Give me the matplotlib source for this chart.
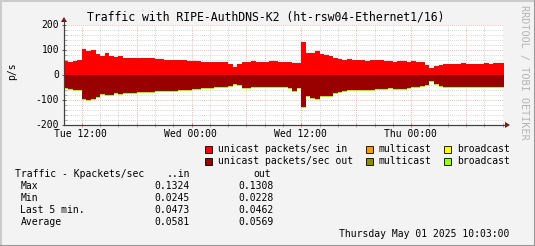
import numpy as np
import matplotlib
matplotlib.use("Agg")
import matplotlib.pyplot as plt
from matplotlib.patches import Rectangle, Polygon
from matplotlib.lines import Line2D
from matplotlib.ticker import MultipleLocator, FixedLocator

# ---------------- data (30-min samples, hours since Tue 00:00) ----------------
start_hour = 10.0
step_hours = 0.5
unicast_in = [57, 54, 58, 60, 103, 98, 100, 85, 75, 88, 78, 71, 76, 69, 68, 67,
              69, 67, 67, 69, 64, 63, 61, 61, 60, 62, 59, 58, 57, 57, 53, 53,
              53, 53, 51, 51, 45, 33, 45, 51, 52, 56, 53, 53, 53, 55, 57, 53,
              51, 54, 49, 49, 132, 88, 88, 95, 85, 80, 76, 68, 66, 62, 63, 62,
              60, 59, 57, 60, 60, 59, 57, 55, 54, 58, 55, 54, 56, 54, 51, 40,
              27, 38, 41, 44, 44, 44, 45, 47, 46, 44, 44, 46, 47, 46, 47, 47, 47]
unicast_out = [53, 56, 58, 60, 96, 100, 96, 86, 74, 80, 81, 73, 76, 72, 70, 73,
               68, 68, 69, 68, 65, 64, 63, 63, 63, 61, 60, 58, 56, 56, 53, 53,
               50, 49, 49, 48, 44, 34, 41, 52, 50, 49, 49, 49, 48, 49, 49, 48,
               49, 51, 62, 50, 127, 84, 91, 94, 82, 82, 84, 73, 68, 64, 60, 59,
               59, 59, 60, 58, 57, 56, 54, 53, 55, 56, 54, 51, 49, 48, 45, 38,
               23, 36, 43, 46, 47, 47, 46, 48, 47, 47, 46, 47, 48, 47, 47, 47, 47]
broadcast_out = [4, 4, 4, 4, 4, 4, 4, 4, 4, 4, 4, 4, 4, 4, 4, 4,
                 4, 4, 4, 4, 4, 4, 4, 4, 4, 4, 4, 4, 4, 4, 4, 4,
                 4, 4, 4, 4, 4, 4, 4, 4, 4, 4, 4, 4, 4, 4, 4, 4,
                 4, 4, 4, 4, 4, 4, 4, 4, 4, 4, 4, 4, 4, 4, 4, 4,
                 4, 4, 4, 4, 4, 4, 4, 4, 4, 4, 4, 4, 4, 4, 4, 4,
                 4, 4, 4, 4, 4, 4, 4, 4, 4, 4, 4, 4, 4, 4, 4, 4, 4]
multicast_in = [0.0] * len(unicast_in)
multicast_out = [0.0] * len(unicast_in)
broadcast_in = [0.0] * len(unicast_in)

x_tick_hours = [12, 24, 36, 48]
x_tick_labels = ["Tue 12:00", "Wed 00:00", "Wed 12:00", "Thu 00:00"]
y_ticks = [-200, -100, 0, 100, 200]
x_range = (10.05, 58.05)

title = "Traffic with RIPE-AuthDNS-K2 (ht-rsw04-Ethernet1/16)"
legend_rows = [
    [("#FF0000", "unicast packets/sec in"), ("#FF9900", "multicast"), ("#FFFF00", "broadcast")],
    [("#990000", "unicast packets/sec out"), ("#8C8C00", "multicast"), ("#99FF00", "broadcast")],
]
stat_names = ["Max", "Min", "Last 5 min.", "Average"]
stat_in = ["0.1324", "0.0245", "0.0473", "0.0581"]
stat_out = ["0.1308", "0.0228", "0.0462", "0.0569"]
date_text = "Thursday May 01 2025 10:03:00"

# ---------------- figure ----------------
W, H = 535, 246
fig = plt.figure(figsize=(W / 100, H / 100), dpi=100, facecolor="#F3F3F3")
MONO = ["DejaVu Sans Mono"]

def fx(x):
    return x / W

def fy(y):
    return 1 - y / H

L, R, T, B = 64, 503, 25, 125
ax = fig.add_axes([fx(L), fy(B), (R - L) / W, (B - T) / H])
ax.set_facecolor("white")

hours = start_hour + step_hours * np.arange(len(unicast_in))
xs = np.append(hours, x_range[1] + 0.3)

def ext(a):
    a = np.asarray(a, float)
    return np.append(a, a[-1])

ui, mi, bi = ext(unicast_in), ext(multicast_in), ext(broadcast_in)
uo, mo, bo = ext(unicast_out), ext(multicast_out), ext(broadcast_out)

ax.fill_between(xs, 0, ui, step="post", color="#FF0000", lw=0, zorder=3)
ax.fill_between(xs, ui, ui + mi, step="post", color="#FF9900", lw=0, zorder=3)
ax.fill_between(xs, ui + mi, ui + mi + bi, step="post", color="#FFFF00", lw=0, zorder=3)
ax.fill_between(xs, 0, -uo, step="post", color="#990000", lw=0, zorder=3)
ax.fill_between(xs, -uo, -(uo + mo), step="post", color="#8C8C00", lw=0, zorder=3)
ax.fill_between(xs, -(uo + mo), -(uo + mo + bo), step="post", color="#99FF00", lw=0, zorder=3)

ax.set_xlim(*x_range)
ax.set_ylim(-200, 200)

# grid
dot = (0, (1, 1.5))
for yv in np.arange(-180, 200, 20):
    if yv % 100 == 0:
        ax.axhline(yv, color="#F0A0A0", lw=0.6, ls=dot, zorder=1)
    else:
        ax.axhline(yv, color="#C8C8C8", lw=0.6, ls=dot, zorder=1)
ax.axhline(200, color="#F0A0A0", lw=0.6, ls=dot, zorder=1)
for xv in np.arange(12, 58.1, 2):
    if xv % 6 == 0:
        ax.axvline(xv, color="#F0A0A0", lw=0.6, ls=dot, zorder=1)
    else:
        ax.axvline(xv, color="#C8C8C8", lw=0.6, ls=dot, zorder=1)

for s in ["top", "right"]:
    ax.spines[s].set_visible(False)
for s in ["left", "bottom"]:
    ax.spines[s].set_color("#404040")
    ax.spines[s].set_linewidth(0.8)
    ax.spines[s].set_zorder(5)

ax.xaxis.set_major_locator(FixedLocator(x_tick_hours))
ax.xaxis.set_minor_locator(MultipleLocator(2))
ax.set_xticklabels([])
ax.yaxis.set_major_locator(FixedLocator(y_ticks))
ax.yaxis.set_minor_locator(MultipleLocator(20))
ax.set_yticklabels([])
ax.tick_params(axis="x", which="major", length=3, direction="inout", color="#E06060", width=0.6)
ax.tick_params(axis="x", which="minor", length=3, direction="inout", color="#A0A0A0", width=0.6)
ax.tick_params(axis="y", which="major", length=3, direction="inout", color="#404040", width=0.6)
ax.tick_params(axis="y", which="minor", length=2, direction="in", color="#A0A0A0", width=0.6)

# tick labels as text
for h, lab in zip(x_tick_hours, x_tick_labels):
    px = L + (h - x_range[0]) / (x_range[1] - x_range[0]) * (R - L)
    fig.text(fx(px - 1), fy(134), lab, ha="center", va="center", fontsize=7.0, family=MONO)
for yv in y_ticks:
    py = B - (yv + 200) / 400 * (B - T)
    fig.text(fx(59), fy(py), f"{yv}", ha="right", va="center", fontsize=7.0, family=MONO)

# axis extensions and arrows
arrow_c = "#7F1010"
fig.add_artist(Line2D([fx(L), fx(L)], [fy(B), fy(19)], color="#404040", lw=0.8))
fig.add_artist(Line2D([fx(L), fx(507)], [fy(B), fy(B)], color="#404040", lw=0.8))
fig.add_artist(Polygon([[fx(61), fy(22)], [fx(67), fy(22)], [fx(64), fy(17)]], closed=True,
                       color=arrow_c, lw=0, transform=fig.transFigure))
fig.add_artist(Polygon([[fx(505), fy(122)], [fx(505), fy(128)], [fx(510), fy(B)]], closed=True,
                       color=arrow_c, lw=0, transform=fig.transFigure))

# title, labels
fig.text(fx(266), fy(17), title, ha="center", va="center", fontsize=8.3, family=MONO)
fig.text(fx(12), fy(71), "p/s", ha="center", va="center", rotation=90, fontsize=7.0, family=MONO)
fig.text(fx(524), fy(72), "RRDTOOL / TOBI OETIKER", ha="center", va="center", rotation=270,
         fontsize=7.3, family=MONO, color="#B4B4B4")

# legend
col_box = [205, 366, 444]
row_y = [149.3, 161.3]
for r, row in enumerate(legend_rows):
    for c, (colr, lab) in enumerate(row):
        bx = col_box[c]
        fig.add_artist(Rectangle((fx(bx), fy(row_y[r] + 4)), 7 / W, 7 / H, facecolor=colr,
                                 edgecolor="black", lw=0.6, transform=fig.transFigure))
        fig.text(fx(bx + 13), fy(row_y[r]), lab, ha="left", va="center", fontsize=7.0, family=MONO)

# stats table
fig.text(fx(15), fy(174), "Traffic - Kpackets/sec", ha="left", va="center", fontsize=7.0, family=MONO)
fig.text(fx(190), fy(174), "..in", ha="right", va="center", fontsize=7.0, family=MONO)
fig.text(fx(271), fy(174), "out", ha="right", va="center", fontsize=7.0, family=MONO)
for i, name in enumerate(stat_names):
    yy = 186 + i * 11.9
    fig.text(fx(20.5), fy(yy), name, ha="left", va="center", fontsize=7.0, family=MONO)
    fig.text(fx(190), fy(yy), stat_in[i], ha="right", va="center", fontsize=7.0, family=MONO)
    fig.text(fx(274), fy(yy), stat_out[i], ha="right", va="center", fontsize=7.0, family=MONO)
fig.text(fx(509), fy(233.7), date_text, ha="right", va="center", fontsize=7.0, family=MONO)

# border (3D shade)
fig.add_artist(Line2D([0, 1], [fy(0.5), fy(0.5)], color="#CBCBCB", lw=1.5))
fig.add_artist(Line2D([fx(0.5), fx(0.5)], [0, 1], color="#CBCBCB", lw=1.5))
fig.add_artist(Line2D([0, 1], [fy(H - 0.5), fy(H - 0.5)], color="#999999", lw=1.5))
fig.add_artist(Line2D([fx(W - 0.5), fx(W - 0.5)], [0, 1], color="#999999", lw=1.5))

fig.savefig("out.png", dpi=100, facecolor=fig.get_facecolor())
